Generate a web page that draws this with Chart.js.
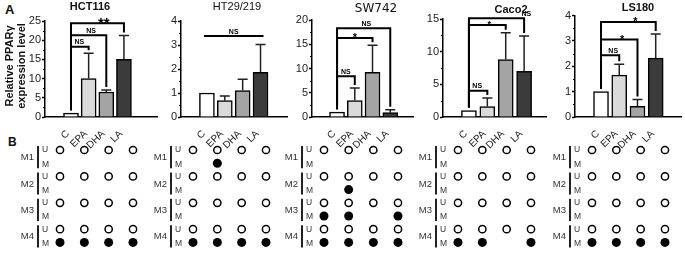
<!DOCTYPE html>
<html>
<head>
<meta charset="utf-8">
<script src="https://cdn.jsdelivr.net/npm/chart.js@4.4.1/dist/chart.umd.min.js"></script>
<style>
  html, body { margin: 0; padding: 0; background: #fff; }
  #fig { position: relative; width: 685px; height: 254px; overflow: hidden; font-family: "Liberation Sans", Arial, sans-serif; }
  #fig canvas { position: absolute; }
  .tag { position: absolute; font-weight: bold; color: #111; line-height: 13px; }
</style>
</head>
<body>
<div id="fig">
  <div class="tag" style="left:5px;top:3px;font-size:13px">A</div>
  <div class="tag" style="left:8px;top:136px;font-size:12px">B</div>
</div>
<script>
// Figure: PPARy expression (A) and methylation status (B) after fatty acid treatment.

var TREATMENTS = ["C", "EPA", "DHA", "LA"];
var CELL_LINES = ["HCT116", "HT29/219", "SW742", "Caco2", "LS180"];
var REGIONS    = ["M1", "M2", "M3", "M4"];
var BAR_FILLS  = ["#ffffff", "#dadada", "#a4a4a4", "#3b3b3b"];

// relative expression (mean) and upper error
var hct116Mean = [1, 10.0, 6.5, 15.0];
var hct116Err  = [0, 6.6, 0.5, 6.2];
var ht29Mean   = [1, 0.68, 1.1, 1.86];
var ht29Err    = [0, 0.2, 0.47, 1.16];
var sw742Mean  = [1, 3.4, 9.2, 0.9];
var sw742Err   = [0, 2.6, 5.6, 0.6];
var caco2Mean  = [1, 1.6, 8.8, 7.0];
var caco2Err   = [0, 1.3, 4.1, 5.4];
var ls180Mean  = [1, 1.65, 0.42, 2.32];
var ls180Err   = [0, 0.43, 0.27, 0.95];

// y tick labels
var hct116Ticks = [0, 5, 10, 15, 20, 25];
var ht29Ticks   = [0, 1, 2, 3, 4];
var sw742Ticks  = [0, 5, 10, 15, 20];
var caco2Ticks  = [0, 5, 10, 15];
var ls180Ticks  = [0, 1, 2, 3, 4];

// significance brackets: [from, to, level, label]
var hct116Sig = [[0, 1, 18.3, "NS"], [0, 2, 21.3, "NS"], [0, 3, 24.4, "**"]];
var ht29Sig   = [[0, 3, 3.37, "NS"]];
var sw742Sig  = [[0, 1, 8.4, "NS"], [0, 2, 16.3, "*"], [0, 3, 18.3, "NS"]];
var caco2Sig  = [[0, 1, 4.0, "NS"], [0, 2, 14.1, "*"], [0, 3, 15.1, "NS"]];
var ls180Sig  = [[0, 1, 2.43, "NS"], [0, 2, 3.05, "*"], [0, 3, 3.74, "*"]];

// methylation: rows = M1..M4, cols = C, EPA, DHA, LA (1 = band present)
var hct116Unmeth = [[1,1,1,1],[1,1,1,1],[1,1,1,1],[1,1,1,1]];
var hct116Meth   = [[0,0,0,0],[0,0,0,0],[0,0,0,0],[1,1,1,1]];
var ht29Unmeth   = [[1,1,1,1],[1,1,1,1],[1,1,1,1],[1,1,1,1]];
var ht29Meth     = [[0,1,0,0],[0,0,0,0],[0,0,0,0],[1,1,1,1]];
var sw742Unmeth  = [[1,1,1,1],[1,1,1,1],[1,1,1,1],[1,1,1,1]];
var sw742Meth    = [[0,0,0,0],[0,1,0,0],[1,1,0,1],[1,1,1,1]];
var caco2Unmeth  = [[1,1,1,1],[1,1,1,1],[1,1,1,1],[1,1,1,1]];
var caco2Meth    = [[0,0,0,0],[0,0,0,0],[0,0,0,0],[1,1,0,1]];
var ls180Unmeth  = [[1,1,1,1],[1,1,1,1],[1,1,1,1],[1,1,1,1]];
var ls180Meth    = [[0,0,0,0],[0,0,0,0],[0,0,0,0],[1,1,1,1]];

var PANELS = [
  { mean: hct116Mean, err: hct116Err, ticks: hct116Ticks, sig: hct116Sig, unmeth: hct116Unmeth, meth: hct116Meth,
    left: 0, width: 160, axisX: 45, right: 157, top: 21, xMin: -0.68, xMax: 4.08,
    titleX: 90, titleY: 7, titleFont: "bold 11px 'Liberation Sans', Arial", starSize: 15,
    sigPos: [0.47, 0.57, 0.62], legs: true, yTitle: true, dotL: 60, dotR: 133 },
  { mean: ht29Mean, err: ht29Err, ticks: ht29Ticks, sig: ht29Sig, unmeth: ht29Unmeth, meth: ht29Meth,
    left: 150, width: 140, axisX: 181, right: 287, top: 21, xMin: -0.71, xMax: 3.74,
    titleX: 237, titleY: 7, titleFont: "11px 'Liberation Sans', Arial", starSize: 11,
    sigPos: [0.5], legs: false, dotL: 193, dotR: 266 },
  { mean: sw742Mean, err: sw742Err, ticks: sw742Ticks, sig: sw742Sig, unmeth: sw742Unmeth, meth: sw742Meth,
    left: 285, width: 131, axisX: 312, right: 413, top: 20, xMin: -0.70, xMax: 3.57,
    titleX: 376, titleY: 9, titleFont: "12px 'DejaVu Sans', sans-serif", starSize: 11,
    sigPos: [0.5, 0.5, 0.55], legs: true, dotL: 324, dotR: 398 },
  { mean: caco2Mean, err: caco2Err, ticks: caco2Ticks, sig: caco2Sig, unmeth: caco2Unmeth, meth: caco2Meth,
    left: 420, width: 129, axisX: 443, right: 546, top: 19, xMin: -0.71, xMax: 3.49,
    titleX: 511, titleY: 10, titleFont: "bold 11px 'Liberation Sans', Arial", starSize: 9,
    sigPos: [0.45, 0.55, 1.04], legs: true, dotL: 458, dotR: 531 },
  { mean: ls180Mean, err: ls180Err, ticks: ls180Ticks, sig: ls180Sig, unmeth: ls180Unmeth, meth: ls180Meth,
    left: 555, width: 129, axisX: 575, right: 681, top: 15.5, xMin: -0.70, xMax: 3.66,
    titleX: 638, titleY: 7.5, titleFont: "bold 11px 'Liberation Sans', Arial", starSize: 11,
    sigPos: [0.67, 0.58, 0.63], legs: true, dotL: 592, dotR: 665 }
];

var TOP_H = 150;
var BOT_TOP = 140, BOT_H = 114;

var barDecor = {
  id: "barDecor",
  afterDatasetsDraw: function(chart, args, o) {
    var ctx = chart.ctx, xs = chart.scales.x, ys = chart.scales.y;
    var p = o.panel, idx = o.index;
    ctx.save();

    // minor ticks
    ctx.strokeStyle = "#000";
    ctx.lineWidth = 1;
    for (var k = 0; k < p.ticks.length - 1; k++) {
      var mv = (p.ticks[k] + p.ticks[k + 1]) / 2;
      var my = Math.round(ys.getPixelForValue(mv)) + 0.5;
      ctx.beginPath();
      ctx.moveTo(chart.chartArea.left - 2, my);
      ctx.lineTo(chart.chartArea.left, my);
      ctx.stroke();
    }

    // error bars (upper only)
    ctx.strokeStyle = "#222";
    ctx.lineWidth = 1.5;
    p.mean.forEach(function(m, i) {
      if (!p.err[i]) return;
      var x = xs.getPixelForValue(i);
      var y0 = ys.getPixelForValue(m);
      var y1 = ys.getPixelForValue(m + p.err[i]);
      ctx.beginPath();
      ctx.moveTo(x, y0);
      ctx.lineTo(x, y1);
      ctx.moveTo(x - 5, y1);
      ctx.lineTo(x + 5, y1);
      ctx.stroke();
    });

    // significance brackets
    ctx.strokeStyle = "#000";
    ctx.fillStyle = "#000";
    ctx.lineWidth = 2;
    ctx.textAlign = "center";
    ctx.textBaseline = "alphabetic";
    p.sig.forEach(function(s, j) {
      var x1 = xs.getPixelForValue(s[0]);
      var x2 = xs.getPixelForValue(s[1]);
      var y = ys.getPixelForValue(s[2]);
      ctx.beginPath();
      if (p.legs) {
        var ya = ys.getPixelForValue(p.mean[s[0]] + p.err[s[0]]) - 3;
        var yb = ys.getPixelForValue(p.mean[s[1]] + p.err[s[1]]) - 3;
        ctx.moveTo(x1, ya);
        ctx.lineTo(x1, y);
        ctx.lineTo(x2, y);
        ctx.lineTo(x2, yb);
      } else {
        ctx.moveTo(x1 - 3, y);
        ctx.lineTo(x2 + 3, y);
      }
      ctx.stroke();
      var lx = x1 + (x2 - x1) * (p.sigPos[j] || 0.5);
      if (s[3] === "NS") {
        ctx.font = "bold 7px 'Liberation Sans', Arial";
        ctx.fillText("NS", lx, y - 2.5);
      } else {
        ctx.font = "bold " + p.starSize + "px 'Liberation Sans', Arial";
        ctx.fillText(s[3], lx, y - 1 + 0.4 * p.starSize);
      }
    });

    // panel title
    ctx.font = p.titleFont;
    ctx.textBaseline = "middle";
    ctx.fillStyle = "#111";
    ctx.fillText(CELL_LINES[idx], p.titleX - p.left, p.titleY);

    // y axis title on the first panel
    if (p.yTitle) {
      ctx.font = "bold 11px 'Liberation Sans', Arial";
      ctx.translate(0, 66);
      ctx.rotate(-Math.PI / 2);
      ctx.fillText("Relative PPAR\u03b3", 0, 10);
      ctx.fillText("expression level", 0, 22);
    }
    ctx.restore();
  }
};

var dotDecor = {
  id: "dotDecor",
  afterDraw: function(chart) {
    var ctx = chart.ctx, ys = chart.scales.y;
    var left = chart.chartArea.left;
    ctx.save();
    ctx.fillStyle = "#333";
    ctx.strokeStyle = "#222";
    REGIONS.forEach(function(r, k) {
      var yu = ys.getPixelForValue(k * 2);
      var ym = ys.getPixelForValue(k * 2 + 1);
      ctx.lineWidth = 2;
      ctx.beginPath();
      ctx.moveTo(left - 22, yu - 4);
      ctx.lineTo(left - 22, ym + 5);
      ctx.stroke();
      ctx.font = "9.5px 'Liberation Sans', Arial";
      ctx.textAlign = "right";
      ctx.textBaseline = "middle";
      ctx.fillText(r, left - 26, (yu + ym) / 2 + 1);
      ctx.font = "8.5px 'Liberation Sans', Arial";
      ctx.textAlign = "left";
      ctx.fillText("U", left - 18, yu);
      ctx.fillText("M", left - 18, ym + 1);
    });
    ctx.restore();
  }
};

var ROWS = [];
REGIONS.forEach(function(r) { ROWS.push(r + " U"); ROWS.push(r + " M"); });

function makeCanvas(left, top, w, h) {
  var cv = document.createElement("canvas");
  cv.width = w;
  cv.height = h;
  cv.style.left = left + "px";
  cv.style.top = top + "px";
  cv.style.width = w + "px";
  cv.style.height = h + "px";
  document.getElementById("fig").appendChild(cv);
  return cv;
}

Chart.defaults.font.family = "'Liberation Sans', Arial, sans-serif";

PANELS.forEach(function(p, idx) {
  // --- bar chart (panel A)
  var cv = makeCanvas(p.left, 0, p.width, TOP_H);
  var ticksArr = p.ticks;
  new Chart(cv, {
    type: "bar",
    data: {
      datasets: [{
        data: p.mean.map(function(v, i) { return { x: i, y: v }; }),
        backgroundColor: BAR_FILLS,
        borderColor: "#000",
        borderWidth: 1.5,
        barThickness: 15
      }]
    },
    options: {
      responsive: false,
      animation: false,
      events: [],
      layout: { padding: { top: p.top, right: p.left + p.width - p.right, bottom: 0, left: 0 } },
      plugins: { legend: { display: false }, tooltip: { enabled: false }, barDecor: { panel: p, index: idx } },
      scales: {
        x: {
          type: "linear",
          min: p.xMin,
          max: p.xMax,
          afterBuildTicks: function(s) { s.ticks = TREATMENTS.map(function(_, i) { return { value: i }; }); },
          afterFit: function(s) { s.height = TOP_H - 117; },
          grid: { display: false },
          border: { color: "#000", width: 1.5 },
          ticks: {
            callback: function(v) { return TREATMENTS[v]; },
            minRotation: 45, maxRotation: 45, autoSkip: false,
            padding: 3, labelOffset: -3, color: "#222", font: { size: 10 }
          }
        },
        y: {
          min: 0,
          max: ticksArr[ticksArr.length - 1],
          afterBuildTicks: function(s) { s.ticks = ticksArr.map(function(v) { return { value: v }; }); },
          afterFit: function(s) { s.width = p.axisX - p.left; },
          grid: { drawOnChartArea: false, tickLength: 3, tickColor: "#000", tickWidth: 1.5 },
          border: { color: "#000", width: 1.5 },
          ticks: { color: "#222", font: { size: 11 }, padding: 1 }
        }
      }
    },
    plugins: [barDecor]
  });

  // --- methylation dot matrix (panel B)
  var open = [], filled = [];
  REGIONS.forEach(function(r, k) {
    TREATMENTS.forEach(function(t, i) {
      if (p.unmeth[k][i]) open.push({ x: t, y: ROWS[k * 2] });
      if (p.meth[k][i]) filled.push({ x: t, y: ROWS[k * 2 + 1] });
    });
  });
  var bl = p.dotL - 60;
  var bw = p.dotR + 12 - bl;
  var cv2 = makeCanvas(bl, BOT_TOP, bw, BOT_H);
  new Chart(cv2, {
    type: "scatter",
    data: {
      datasets: [
        { data: open, pointRadius: 3.6, pointBorderWidth: 1.5, pointBackgroundColor: "#fff", pointBorderColor: "#000", clip: false },
        { data: filled, pointRadius: 4.5, pointBorderWidth: 0, pointBackgroundColor: "#000", pointBorderColor: "#000", clip: false }
      ]
    },
    options: {
      responsive: false,
      animation: false,
      events: [],
      layout: { padding: { top: 10, bottom: 11.6, left: 60, right: 12 } },
      plugins: { legend: { display: false }, tooltip: { enabled: false } },
      scales: {
        x: { type: "category", labels: TREATMENTS, offset: false, display: false },
        y: { type: "category", labels: ROWS, offset: false, display: false }
      }
    },
    plugins: [dotDecor]
  });
});
</script>
</body>
</html>
